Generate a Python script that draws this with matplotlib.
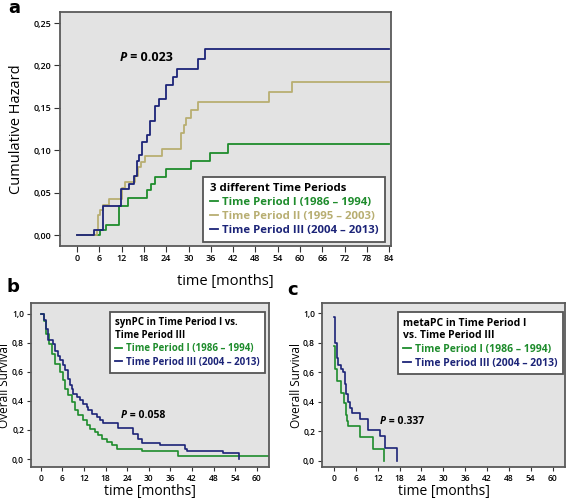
import numpy as np
import matplotlib
matplotlib.use("Agg")
from matplotlib import pyplot as plt
from matplotlib.lines import Line2D

plt.rcParams['font.family'] = ['Open Sans', 'DejaVu Sans']

# colours of the three periods
c_I = '#1e8c2c'
c_II = '#b8ae72'
c_III = '#1c2478'

# panel a: cumulative hazard
a_t_I = [0, 6.2, 7.9, 11.4, 13.7, 18.9, 19.9, 20.9, 23.8, 30.6, 35.8, 40.6, 84]
a_v_I = [0, 0.006, 0.012, 0.035, 0.044, 0.053, 0.061, 0.069, 0.078, 0.087, 0.097, 0.108, 0.108]
a_t_II = [0, 5.3, 5.7, 6.2, 6.9, 8.6, 12.0, 13.0, 15.7, 16.4, 17.2, 18.2, 22.8, 27.9,
          28.7, 29.4, 30.6, 32.6, 51.7, 57.8, 84]
a_v_II = [0, 0.006, 0.024, 0.030, 0.036, 0.043, 0.056, 0.063, 0.070, 0.080, 0.086, 0.093,
          0.102, 0.120, 0.130, 0.138, 0.148, 0.157, 0.169, 0.180, 0.180]
a_t_III = [0, 4.5, 7.1, 11.7, 14.0, 15.3, 16.0, 16.7, 17.6, 18.7, 19.6, 20.9, 22.1, 23.8,
           25.9, 26.8, 32.6, 34.5, 84]
a_v_III = [0, 0.006, 0.035, 0.054, 0.060, 0.070, 0.088, 0.095, 0.110, 0.118, 0.135, 0.152,
           0.160, 0.177, 0.187, 0.196, 0.208, 0.220, 0.220]

# panel b: synPC overall survival
b_t_I = [0, 1.0, 1.5, 2.2, 3.0, 4.0, 5.4, 6.3, 6.8, 7.7, 8.6, 9.5, 10.4, 11.8, 12.8, 13.7,
         15.1, 16.0, 16.9, 18.3, 19.7, 21.1, 28.0, 38.0, 63.4]
b_v_I = [1.0, 0.95, 0.86, 0.79, 0.725, 0.656, 0.598, 0.541, 0.484, 0.438, 0.392, 0.335,
         0.30, 0.266, 0.232, 0.209, 0.186, 0.163, 0.14, 0.117, 0.094, 0.068, 0.055, 0.018, 0.018]
b_t_III = [0, 0.9, 1.5, 2.1, 3.5, 4.0, 4.9, 5.4, 6.3, 6.8, 7.7, 8.1, 8.6, 9.1, 10.0, 10.9,
           11.8, 12.8, 13.2, 14.2, 15.6, 16.5, 17.4, 21.5, 25.5, 27.0, 28.0, 33.1, 40.1,
           40.5, 50.7, 55.2]
b_v_III = [1.0, 0.954, 0.897, 0.816, 0.79, 0.745, 0.71, 0.68, 0.644, 0.61, 0.553, 0.507,
           0.484, 0.45, 0.426, 0.404, 0.381, 0.358, 0.335, 0.312, 0.289, 0.266, 0.245,
           0.213, 0.174, 0.14, 0.112, 0.094, 0.067, 0.055, 0.04, 0.0]

# panel c: metaPC overall survival
c_t_I = [0, 0.2, 0.8, 2.0, 2.8, 3.2, 3.5, 3.8, 7.1, 10.8, 13.8]
c_v_I = [0.774, 0.62, 0.54, 0.46, 0.39, 0.31, 0.27, 0.232, 0.16, 0.08, 0.0]
c_t_III = [0, 0.2, 0.4, 0.7, 1.1, 2.0, 2.5, 2.9, 3.4, 3.8, 4.3, 4.8, 7.1, 9.3, 12.6,
           13.9, 17.3]
c_v_III = [0.97, 0.875, 0.80, 0.695, 0.65, 0.62, 0.60, 0.52, 0.45, 0.40, 0.36, 0.32,
           0.28, 0.21, 0.17, 0.086, 0.0]

months_a = list(range(0, 85, 6))
months_bc = list(range(0, 61, 6))
haz_ticks = [0, 0.05, 0.10, 0.15, 0.20, 0.25]
haz_labels = ['0,00', '0,05', '0,10', '0,15', '0,20', '0,25']
surv_ticks = [0, 0.2, 0.4, 0.6, 0.8, 1.0]
surv_labels = ['0,0', '0,2', '0,4', '0,6', '0,8', '1,0']

lab_I = 'Time Period I (1986 \u2013 1994)'
lab_II = 'Time Period II (1995 \u2013 2003)'
lab_III = 'Time Period III (2004 \u2013 2013)'

W, H = 567, 503
fig = plt.figure(figsize=(W / 100, H / 100), dpi=100)


def box(l, t, r, b):
    return [l / W, 1 - b / H, (r - l) / W, (b - t) / H]


def style(ax, xt, yt, ylab, fs, tl):
    ax.set_facecolor('#e3e3e3')
    for s in ax.spines.values():
        s.set_color('#5a5a5a')
        s.set_linewidth(1.3)
    ax.set_xticks(xt)
    ax.set_xticklabels([str(v) for v in xt])
    ax.set_yticks(yt)
    ax.set_yticklabels(ylab)
    ax.tick_params(direction='out', length=tl, width=0.8, color='#333333',
                   labelsize=fs, pad=2)
    for lb in ax.get_xticklabels() + ax.get_yticklabels():
        lb.set_fontweight('semibold')


def pval(ax, x, y, txt, fs):
    p = ax.text(x, y, 'P', style='italic', fontweight='bold', fontsize=fs, va='center')
    ax.annotate(' = ' + txt, xy=(1, 0), xycoords=p, va='bottom', ha='left',
                fontweight='bold', fontsize=fs)


def legend(ax, handles, labels, title, fs, loc, anchor):
    lg = ax.legend(handles, labels, title=title, loc=loc, bbox_to_anchor=anchor,
                   bbox_transform=ax.transAxes, frameon=True, fancybox=False,
                   edgecolor='#555555', framealpha=1, handlelength=0.7,
                   handletextpad=0.4, labelcolor='linecolor', borderpad=0.55,
                   borderaxespad=0, labelspacing=0.25, alignment='left',
                   prop={'weight': 'bold', 'size': fs},
                   title_fontproperties={'weight': 'bold', 'size': fs})
    lg.get_frame().set_linewidth(1.3)
    return lg


# ---- panel a
ax = fig.add_axes(box(60, 12, 391, 246))
ax.step(a_t_I, a_v_I, where='post', color=c_I, lw=1.3)
ax.step(a_t_II, a_v_II, where='post', color=c_II, lw=1.3)
ax.step(a_t_III, a_v_III, where='post', color=c_III, lw=1.3)
ax.set_xlim(-4.6, 84.5)
ax.set_ylim(-0.0126, 0.263)
style(ax, months_a, haz_ticks, haz_labels, 6.5, 4)
ax.set_ylabel('Cumulative Hazard', fontsize=10.5)
ax.yaxis.set_label_coords(-0.109, 0.5)
ax.set_xlabel('time [months]', fontsize=10.5, labelpad=8)
pval(ax, 11.5, 0.209, '0.023', 9)
hs = [Line2D([], [], color=c, lw=1.3) for c in (c_I, c_II, c_III)]
legend(ax, hs, [lab_I, lab_II, lab_III], '3 different Time Periods', 8.2,
       'lower right', (0.982, 0.017))
fig.text(14.5 / W, 1 - 8 / H, 'a', fontsize=13, fontweight='bold', va='center',
         ha='center', family='DejaVu Sans')

# ---- panel b
ax = fig.add_axes(box(31, 303, 269, 467))
ax.step(b_t_I, b_v_I, where='post', color=c_I, lw=1.2)
ax.step(b_t_III, b_v_III, where='post', color=c_III, lw=1.2)
ax.set_xlim(-2.7, 63.4)
ax.set_ylim(-0.055, 1.073)
style(ax, months_bc, surv_ticks, surv_labels, 6, 3)
ax.set_ylabel('Overall Survival', fontsize=8.5)
ax.yaxis.set_label_coords(-0.082, 0.5)
ax.set_xlabel('time [months]', fontsize=10, labelpad=1)
pval(ax, 22.3, 0.296, '0.058', 7.5)
hs = [Line2D([], [], color=c, lw=1.3) for c in (c_I, c_III)]
legend(ax, hs, [lab_I, lab_III], 'synPC in Time Period I vs.\nTime Period III', 7,
       'upper right', (0.983, 0.945))
fig.text(13 / W, 1 - 287 / H, 'b', fontsize=13, fontweight='bold', va='center',
         ha='center', family='DejaVu Sans')

# ---- panel c
ax = fig.add_axes(box(322, 303, 565, 467))
ax.step(c_t_I, c_v_I, where='post', color=c_I, lw=1.2)
ax.step(c_t_III, c_v_III, where='post', color=c_III, lw=1.2)
ax.set_xlim(-3.3, 63.4)
ax.set_ylim(-0.043, 1.068)
style(ax, months_bc, surv_ticks, surv_labels, 6, 3)
ax.set_ylabel('Overall Survival', fontsize=8.5)
ax.yaxis.set_label_coords(-0.078, 0.5)
ax.set_xlabel('time [months]', fontsize=10, labelpad=1)
pval(ax, 12.6, 0.262, '0.337', 7.5)
legend(ax, hs, [lab_I, lab_III], 'metaPC in Time Period I\nvs. Time Period III', 7.5,
       'upper right', (0.992, 0.945))
fig.text(293 / W, 1 - 290 / H, 'c', fontsize=13, fontweight='bold', va='center',
         ha='center', family='DejaVu Sans')

fig.savefig('out.png', dpi=100)
